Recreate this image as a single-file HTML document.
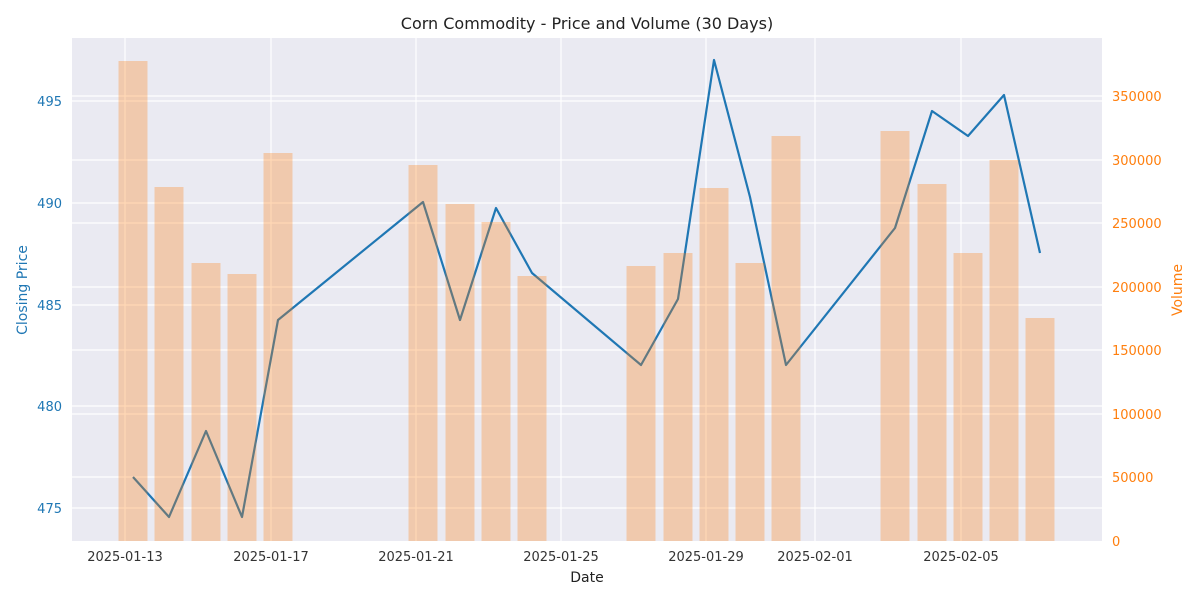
<!DOCTYPE html>
<html><head><meta charset="utf-8"><style>body{margin:0;background:#fff}svg{display:block}</style></head><body>
<svg width="1200" height="600" xmlns="http://www.w3.org/2000/svg" font-family="'DejaVu Sans','Liberation Sans',sans-serif">
<rect x="72" y="38" width="1030" height="503" fill="#eaeaf2"/>
<g stroke="#fff" stroke-width="1.2">
<line x1="125" y1="38" x2="125" y2="541"/><line x1="271" y1="38" x2="271" y2="541"/><line x1="416" y1="38" x2="416" y2="541"/><line x1="561" y1="38" x2="561" y2="541"/><line x1="706" y1="38" x2="706" y2="541"/><line x1="815" y1="38" x2="815" y2="541"/><line x1="961" y1="38" x2="961" y2="541"/>
<line x1="72" y1="101" x2="1102" y2="101"/><line x1="72" y1="203" x2="1102" y2="203"/><line x1="72" y1="305" x2="1102" y2="305"/><line x1="72" y1="406" x2="1102" y2="406"/><line x1="72" y1="508" x2="1102" y2="508"/>
<line x1="72" y1="477" x2="1102" y2="477"/><line x1="72" y1="414" x2="1102" y2="414"/><line x1="72" y1="350" x2="1102" y2="350"/><line x1="72" y1="287" x2="1102" y2="287"/><line x1="72" y1="223" x2="1102" y2="223"/><line x1="72" y1="160" x2="1102" y2="160"/><line x1="72" y1="96" x2="1102" y2="96"/>
</g>
<polyline fill="none" stroke="#1f77b4" stroke-width="2.2" stroke-linejoin="round" points="133,477 169,517 206,431 242,517 278,320 423,202 460,320 496,208 532,273 641,365 678,299 714,60 750,197 786,365 895,228 932,111 968,136 1004,95 1040,253"/>
<g fill="#ff7f0e" fill-opacity="0.3">
<rect x="118.5" y="61" width="29" height="480"/><rect x="154.5" y="187" width="29" height="354"/><rect x="191.5" y="263" width="29" height="278"/><rect x="227.5" y="274" width="29" height="267"/><rect x="263.5" y="153" width="29" height="388"/>
<rect x="408.5" y="165" width="29" height="376"/><rect x="445.5" y="204" width="29" height="337"/><rect x="481.5" y="222" width="29" height="319"/><rect x="517.5" y="276" width="29" height="265"/>
<rect x="626.5" y="266" width="29" height="275"/><rect x="663.5" y="253" width="29" height="288"/><rect x="699.5" y="188" width="29" height="353"/><rect x="735.5" y="263" width="29" height="278"/><rect x="771.5" y="136" width="29" height="405"/>
<rect x="880.5" y="131" width="29" height="410"/><rect x="917.5" y="184" width="29" height="357"/><rect x="953.5" y="253" width="29" height="288"/><rect x="989.5" y="160" width="29" height="381"/><rect x="1025.5" y="318" width="29" height="223"/>
</g>
<g font-size="13" fill="#333" text-anchor="middle">
<text x="125" y="561">2025-01-13</text><text x="271" y="561">2025-01-17</text><text x="416" y="561">2025-01-21</text><text x="561" y="561">2025-01-25</text><text x="706" y="561">2025-01-29</text><text x="815" y="561">2025-02-01</text><text x="961" y="561">2025-02-05</text>
</g>
<g font-size="13" fill="#1f77b4" text-anchor="end">
<text x="62" y="106">495</text><text x="62" y="208">490</text><text x="62" y="310">485</text><text x="62" y="411">480</text><text x="62" y="513">475</text>
</g>
<g font-size="13" fill="#ff7f0e">
<text x="1112" y="546">0</text><text x="1112" y="482">50000</text><text x="1112" y="419">100000</text><text x="1112" y="355">150000</text><text x="1112" y="292">200000</text><text x="1112" y="228">250000</text><text x="1112" y="165">300000</text><text x="1112" y="101">350000</text>
</g>
<text x="587" y="582" font-size="14" fill="#222" text-anchor="middle">Date</text>
<text transform="translate(27,290) rotate(-90)" font-size="14" fill="#1f77b4" text-anchor="middle">Closing Price</text>
<text transform="translate(1182,290) rotate(-90)" font-size="14" fill="#ff7f0e" text-anchor="middle">Volume</text>
<text x="587" y="29" font-size="16" fill="#222" text-anchor="middle">Corn Commodity - Price and Volume (30 Days)</text>
</svg>
</body></html>
